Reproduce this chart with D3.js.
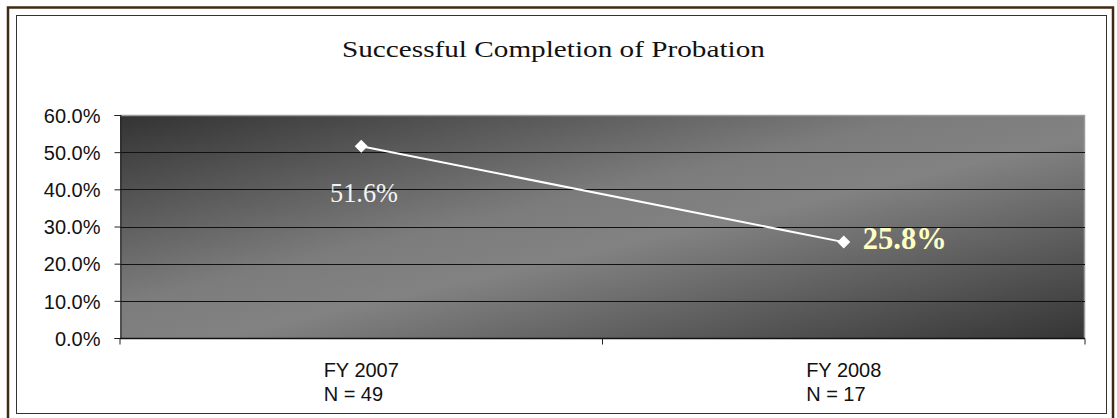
<!DOCTYPE html>
<html><head><meta charset="utf-8">
<script src="https://cdn.jsdelivr.net/npm/d3@7"></script>
<style>html,body{margin:0;padding:0;background:#fff;}svg{display:block;}</style>
</head><body>
<script>
const title = "Successful Completion of Probation";
const categories = ["FY 2007", "FY 2008"];
const subLabels = ["N = 49", "N = 17"];
const values = [51.6, 25.8];
const valueLabels = ["51.6%", "25.8%"];
const yTicks = [0, 10, 20, 30, 40, 50, 60];

const W = 1117, H = 418;
const svg = d3.select("body").append("svg").attr("width", W).attr("height", H);

// stretch a text horizontally so it spans the given width, starting at x0
function fitText(sel, x0, yb, width) {
  const w = sel.node().getComputedTextLength();
  sel.attr("x", 0).attr("y", 0).attr("transform", `translate(${x0},${yb}) scale(${width / w},1)`);
}

// borders
svg.append("rect").attr("x", 8).attr("y", 7.5).attr("width", 1105).attr("height", 420)
  .attr("fill", "none").attr("stroke", "#3f2a12").attr("stroke-width", 2.5);
svg.append("rect").attr("x", 16.5).attr("y", 15.5).attr("width", 1090).attr("height", 398)
  .attr("fill", "none").attr("stroke", "#333").attr("stroke-width", 1);

const m = {left: 120, right: 1085, top: 115, bottom: 338};
const x = d3.scaleBand().domain(categories).range([m.left, m.right]);
const y = d3.scaleLinear().domain([0, 60]).range([m.bottom, m.top]);

const defs = svg.append("defs");
const g = defs.append("linearGradient").attr("id", "bg").attr("x1", 0).attr("y1", 0).attr("x2", 1).attr("y2", 1);
g.append("stop").attr("offset", "0%").attr("stop-color", "#333333");
g.append("stop").attr("offset", "42%").attr("stop-color", "#7c7c7c");
g.append("stop").attr("offset", "55%").attr("stop-color", "#828282");
g.append("stop").attr("offset", "100%").attr("stop-color", "#353535");

svg.append("rect").attr("x", m.left).attr("y", m.top).attr("width", m.right - m.left).attr("height", m.bottom - m.top)
  .attr("fill", "url(#bg)");
svg.append("path").attr("d", `M${m.left},${m.top + 0.5}H${m.right - 0.5}V${m.bottom}`)
  .attr("fill", "none").attr("stroke", "#9a9a9a").attr("stroke-width", 1.5);

// gridlines
svg.append("g").selectAll("line").data(yTicks.filter(t => t > 0 && t < 60)).join("line")
  .attr("x1", m.left).attr("x2", m.right)
  .attr("y1", d => Math.round(y(d)) + 0.5).attr("y2", d => Math.round(y(d)) + 0.5)
  .attr("stroke", "#111").attr("stroke-width", 1);

// y axis
const yAxis = svg.append("g").attr("transform", `translate(${m.left + 0.5},0)`)
  .call(d3.axisLeft(y).tickValues(yTicks).tickSize(6).tickPadding(14).tickFormat(d => d.toFixed(1) + "%"));
yAxis.select(".domain").attr("stroke", "#222");
yAxis.selectAll(".tick line").attr("stroke", "#222");
yAxis.selectAll("text").attr("font-family", "Liberation Sans, Arial, sans-serif").attr("font-size", 20)
  .attr("fill", "#111").attr("dy", "0.36em");

// x axis
const xAxisG = svg.append("g").attr("transform", `translate(0,${m.bottom + 0.5})`);
xAxisG.append("line").attr("x1", m.left).attr("x2", m.right).attr("stroke", "#111").attr("stroke-width", 1.5);
const bounds = [m.left, m.left + x.bandwidth(), m.right];
xAxisG.selectAll(".xt").data(bounds).join("line").attr("class", "xt")
  .attr("x1", d => d).attr("x2", d => d).attr("y1", 0).attr("y2", 6).attr("stroke", "#222");

categories.forEach((c, i) => {
  const cx = x(c) + x.bandwidth() / 2;
  const t = svg.append("text").attr("font-family", "Liberation Sans, Arial, sans-serif").attr("font-size", 20).attr("fill", "#111");
  const t1 = t.append("tspan").attr("y", 377).text(c);
  const w = t1.node().getComputedTextLength();
  t1.attr("x", cx - w / 2);
  t.append("tspan").attr("x", cx - w / 2).attr("y", 401).text(subLabels[i]);
});

// line
const pts = categories.map((c, i) => [x(c) + x.bandwidth() / 2, y(values[i])]);
svg.append("path").attr("d", d3.line()(pts)).attr("fill", "none").attr("stroke", "#fff").attr("stroke-width", 2);
svg.append("g").selectAll("path").data(pts).join("path")
  .attr("transform", d => `translate(${d[0]},${d[1]})`)
  .attr("d", "M0,-6.5L6.5,0L0,6.5L-6.5,0Z").attr("fill", "#fff");

// data labels
const l1 = svg.append("text")
  .attr("font-family", "Liberation Serif, Times New Roman, serif").attr("font-size", 27).attr("fill", "#f4f4f4")
  .text(valueLabels[0]);
fitText(l1, 330, 202, 68);
const l2 = svg.append("text")
  .attr("font-family", "Liberation Serif, Times New Roman, serif").attr("font-size", 31).attr("font-weight", "bold")
  .attr("fill", "#ffffc4").text(valueLabels[1]);
fitText(l2, pts[1][0] + 19, 249, 84);

// title
const tt = svg.append("text").attr("font-family", "Liberation Serif, Times New Roman, serif")
  .attr("font-size", 24).attr("fill", "#111").text(title);
fitText(tt, 342, 57, 423);
</script>
</body></html>
